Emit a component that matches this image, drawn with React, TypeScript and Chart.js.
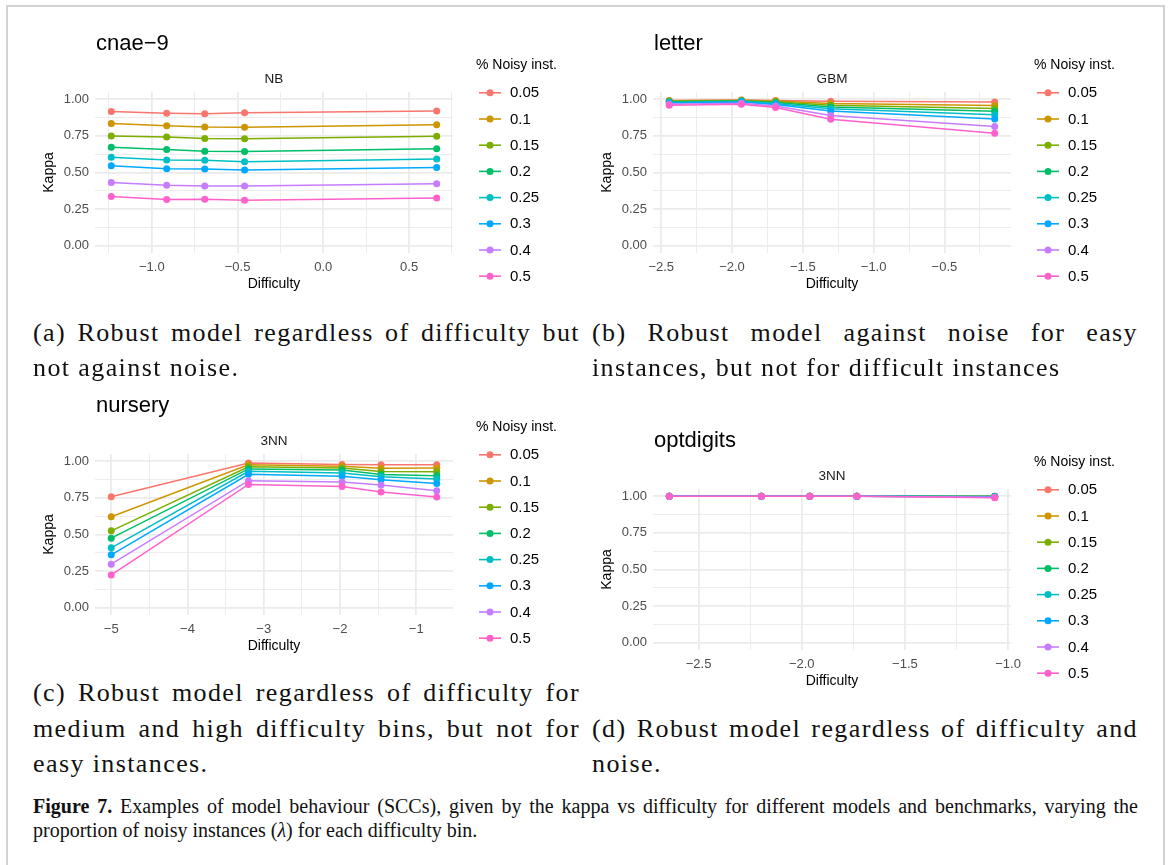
import React, { useEffect, useRef } from "react";
import { Chart, registerables } from "chart.js";

Chart.register(...registerables);

// Noise proportions shared by every panel, with the ggplot hue palette.
const noiseLevels = ["0.05", "0.1", "0.15", "0.2", "0.25", "0.3", "0.4", "0.5"];
const noiseColors = ["#F8766D", "#CD9600", "#7CAE00", "#00BE67", "#00BFC4", "#00A9FF", "#C77CFF", "#FF61CC"];
const legendTitle = "% Noisy inst.";

// cnae-9, NB
const cnaeDifficulty = [-1.236, -0.913, -0.691, -0.459, 0.661];
const cnaeKappa = [
  [0.917, 0.905, 0.901, 0.909, 0.921],
  [0.834, 0.819, 0.811, 0.809, 0.827],
  [0.749, 0.742, 0.733, 0.730, 0.747],
  [0.673, 0.657, 0.646, 0.644, 0.662],
  [0.605, 0.586, 0.584, 0.574, 0.592],
  [0.546, 0.526, 0.524, 0.517, 0.535],
  [0.431, 0.413, 0.408, 0.408, 0.423],
  [0.336, 0.316, 0.318, 0.311, 0.325],
];

// letter, GBM
const letterDifficulty = [-2.443, -1.934, -1.692, -1.303, -0.145];
const letterKappa = [
  [0.992, 0.995, 0.992, 0.986, 0.981],
  [0.990, 0.993, 0.988, 0.972, 0.958],
  [0.987, 0.991, 0.984, 0.960, 0.937],
  [0.983, 0.988, 0.978, 0.948, 0.918],
  [0.979, 0.985, 0.972, 0.936, 0.895],
  [0.975, 0.981, 0.965, 0.920, 0.866],
  [0.966, 0.973, 0.955, 0.890, 0.815],
  [0.960, 0.966, 0.944, 0.864, 0.768],
];

// nursery, 3NN
const nurseryDifficulty = [-5.0, -3.2, -1.973, -1.462, -0.731];
const nurseryKappa = [
  [0.758, 0.989, 0.979, 0.976, 0.977],
  [0.621, 0.976, 0.967, 0.952, 0.954],
  [0.525, 0.963, 0.954, 0.930, 0.929],
  [0.475, 0.948, 0.940, 0.910, 0.902],
  [0.409, 0.932, 0.920, 0.895, 0.879],
  [0.361, 0.911, 0.898, 0.874, 0.849],
  [0.297, 0.868, 0.858, 0.838, 0.799],
  [0.224, 0.842, 0.828, 0.791, 0.756],
];

// optdigits, 3NN
const optdigitsDifficulty = [-2.642, -2.196, -1.961, -1.733, -1.065];
const optdigitsKappa = [
  [1.0, 1.0, 1.0, 1.0, 1.0],
  [1.0, 1.0, 1.0, 1.0, 1.0],
  [1.0, 1.0, 1.0, 1.0, 0.999],
  [1.0, 1.0, 1.0, 1.0, 0.999],
  [1.0, 1.0, 1.0, 1.0, 0.998],
  [1.0, 1.0, 1.0, 1.0, 0.997],
  [1.0, 1.0, 1.0, 1.0, 0.994],
  [1.0, 1.0, 1.0, 1.0, 0.991],
];

const SANS = '"Liberation Sans", Arial, Helvetica, sans-serif';
const SERIF = '"Liberation Serif", "Times New Roman", serif';
const GRID = "#EBEBEB";

type PanelSpec = {
  title: string;
  subtitle: string;
  difficulty: number[];
  kappa: number[][];
  xMin: number;
  xMax: number;
  xMinor: number;
  xMajor: number;
  xDigits: number;
  left: number;
  top: number;
};

const panels: PanelSpec[] = [
  { title: "cnae\u22129", subtitle: "NB", difficulty: cnaeDifficulty, kappa: cnaeKappa,
    xMin: -1.331, xMax: 0.756, xMinor: 0.25, xMajor: 0.5, xDigits: 1, left: 30, top: 20 },
  { title: "letter", subtitle: "GBM", difficulty: letterDifficulty, kappa: letterKappa,
    xMin: -2.558, xMax: -0.03, xMinor: 0.25, xMajor: 0.5, xDigits: 1, left: 588, top: 20 },
  { title: "nursery", subtitle: "3NN", difficulty: nurseryDifficulty, kappa: nurseryKappa,
    xMin: -5.213, xMax: -0.518, xMinor: 0.5, xMajor: 1, xDigits: 0, left: 30, top: 382 },
  { title: "optdigits", subtitle: "3NN", difficulty: optdigitsDifficulty, kappa: optdigitsKappa,
    xMin: -2.721, xMax: -0.986, xMinor: 0.25, xMajor: 0.5, xDigits: 1, left: 588, top: 417 },
];

const CANVAS_W = 555;
const CANVAS_H = 280;

const isMajor = (v: number, step: number) => Math.abs(v / step - Math.round(v / step)) < 1e-6;
const fmt = (v: number, digits: number) => {
  const s = (Math.abs(v) < 1e-9 ? 0 : v).toFixed(digits);
  return s.replace("-", "\u2212");
};

// Draws the facet title, strip label and the line+point legend around the plot area.
const panelDecor = {
  id: "panelDecor",
  afterDraw(chart: any, _args: any, opts: any) {
    const { ctx, chartArea } = chart;
    ctx.save();
    ctx.textBaseline = "middle";

    ctx.fillStyle = "#000000";
    ctx.textAlign = "left";
    ctx.font = `22px ${SANS}`;
    ctx.fillText(opts.title, chartArea.left + 1, 24);

    ctx.fillStyle = "#1A1A1A";
    ctx.textAlign = "center";
    ctx.font = `13.5px ${SANS}`;
    ctx.fillText(opts.subtitle, (chartArea.left + chartArea.right) / 2, 59);

    const lx = chartArea.right + 23;
    ctx.fillStyle = "#000000";
    ctx.textAlign = "left";
    ctx.font = `14px ${SANS}`;
    ctx.fillText(opts.legendTitle, lx, 45);

    chart.data.datasets.forEach((ds: any, i: number) => {
      const y = 72.8 + i * 26.2;
      ctx.strokeStyle = ds.borderColor;
      ctx.lineWidth = 1.6;
      ctx.beginPath();
      ctx.moveTo(lx + 3, y);
      ctx.lineTo(lx + 25, y);
      ctx.stroke();
      ctx.fillStyle = ds.borderColor;
      ctx.beginPath();
      ctx.arc(lx + 14, y, 3.5, 0, Math.PI * 2);
      ctx.fill();
      ctx.fillStyle = "#000000";
      ctx.font = `15px ${SANS}`;
      ctx.fillText(ds.label, lx + 34, y + 0.5);
    });
    ctx.restore();
  },
};

function Panel({ spec }: { spec: PanelSpec }) {
  const ref = useRef<HTMLCanvasElement | null>(null);

  useEffect(() => {
    if (!ref.current) return;
    const datasets = noiseLevels.map((label, i) => ({
      label,
      data: spec.difficulty.map((x, j) => ({ x, y: spec.kappa[i][j] })),
      borderColor: noiseColors[i],
      backgroundColor: noiseColors[i],
      pointBackgroundColor: noiseColors[i],
      pointBorderWidth: 0,
      pointRadius: 3.5,
      borderWidth: 1.5,
      tension: 0,
      order: noiseLevels.length - i,
    }));

    const chart = new Chart(ref.current, {
      type: "line",
      data: { datasets },
      plugins: [panelDecor],
      options: {
        animation: false,
        responsive: false,
        devicePixelRatio: 1,
        layout: { padding: { left: 0, top: 72, right: 132, bottom: 2 } },
        plugins: {
          legend: { display: false },
          tooltip: { enabled: false },
          panelDecor: { title: spec.title, subtitle: spec.subtitle, legendTitle },
        } as any,
        scales: {
          x: {
            type: "linear",
            min: spec.xMin,
            max: spec.xMax,
            afterFit: (s: any) => { s.height = 45; },
            border: { display: false },
            grid: {
              color: GRID,
              drawTicks: false,
              lineWidth: (c: any) => (c.tick && isMajor(c.tick.value, spec.xMajor) ? 1.8 : 0.9),
            },
            ticks: {
              stepSize: spec.xMinor,
              includeBounds: false,
              autoSkip: false,
              maxRotation: 0,
              minRotation: 0,
              padding: 7,
              color: "#4D4D4D",
              font: { family: SANS, size: 13 },
              callback: (v: any) => (isMajor(Number(v), spec.xMajor) ? fmt(Number(v), spec.xDigits) : ""),
            },
            title: {
              display: true,
              text: "Difficulty",
              color: "#000000",
              font: { family: SANS, size: 14 },
              padding: { top: 0, bottom: 5.6 },
            },
          },
          y: {
            type: "linear",
            min: -0.05,
            max: 1.05,
            afterFit: (s: any) => { s.width = 65; },
            border: { display: false },
            grid: {
              color: GRID,
              drawTicks: false,
              lineWidth: (c: any) => (c.tick && isMajor(c.tick.value, 0.25) ? 1.8 : 0.9),
            },
            ticks: {
              stepSize: 0.125,
              includeBounds: false,
              autoSkip: false,
              padding: 6,
              color: "#4D4D4D",
              font: { family: SANS, size: 13 },
              callback: (v: any) => (isMajor(Number(v), 0.25) ? fmt(Number(v), 2) : ""),
            },
            title: {
              display: true,
              text: "Kappa",
              color: "#000000",
              font: { family: SANS, size: 14 },
              padding: { top: 11, bottom: 0 },
            },
          },
        },
      } as any,
    });
    return () => chart.destroy();
  }, [spec]);

  return (
    <canvas
      ref={ref}
      width={CANVAS_W}
      height={CANVAS_H}
      style={{ position: "absolute", left: spec.left, top: spec.top, width: CANVAS_W, height: CANVAS_H }}
    />
  );
}

const captionA = ["(a) Robust model regardless of difficulty but", "not against noise."];
const captionB = ["(b) Robust model against noise for easy", "instances, but not for difficult instances"];
const captionC = [
  "(c) Robust model regardless of difficulty for",
  "medium and high difficulty bins, but not for",
  "easy instances.",
];
const captionD = ["(d) Robust model regardless of difficulty and", "noise."];

function CaptionLine({ text, left, width, y, justify }: { text: string; left: number; width: number; y: number; justify: boolean }) {
  return (
    <div
      style={{
        position: "absolute",
        left,
        top: y - 16,
        width,
        height: 32,
        lineHeight: "32px",
        fontFamily: SERIF,
        fontSize: 26,
        letterSpacing: "1.4px",
        color: "#111",
        textAlign: justify ? "justify" : "left",
        textAlignLast: justify ? "justify" : "left",
      } as any}
    >
      {text}
    </div>
  );
}

export default function App() {
  return (
    <div
      style={{
        position: "absolute",
        left: 0,
        top: 0,
        width: 1170,
        height: 865,
        background: "#ffffff",
        overflow: "hidden",
      }}
    >
      <div
        style={{
          position: "absolute",
          left: 6,
          top: 5,
          width: 1155,
          height: 900,
          borderLeft: "2px solid #D2D2D2",
          borderRight: "2px solid #D2D2D2",
          borderTop: "2px solid #D2D2D2",
        }}
      />
      {panels.map((p) => (
        <Panel key={p.title} spec={p} />
      ))}

      <CaptionLine text={captionA[0]} left={33} width={547} y={333} justify />
      <CaptionLine text={captionA[1]} left={33} width={547} y={368} justify={false} />
      <CaptionLine text={captionB[0]} left={592} width={546} y={333} justify />
      <CaptionLine text={captionB[1]} left={592} width={546} y={368} justify={false} />

      <CaptionLine text={captionC[0]} left={33} width={547} y={693} justify />
      <CaptionLine text={captionC[1]} left={33} width={547} y={729} justify />
      <CaptionLine text={captionC[2]} left={33} width={547} y={764} justify={false} />
      <CaptionLine text={captionD[0]} left={592} width={546} y={729} justify />
      <CaptionLine text={captionD[1]} left={592} width={546} y={764} justify={false} />

      <div
        style={{
          position: "absolute",
          left: 33,
          top: 794,
          width: 1105,
          lineHeight: "24px",
          fontFamily: SERIF,
          fontSize: 20,
          color: "#111",
        }}
      >
        <div style={{ textAlign: "justify", textAlignLast: "justify" } as any}>
          <b>Figure 7.</b> Examples of model behaviour (SCCs), given by the kappa vs difficulty for different models and benchmarks, varying the
        </div>
        <div>
          proportion of noisy instances (<i>{"\u03bb"}</i>) for each difficulty bin.
        </div>
      </div>
    </div>
  );
}
